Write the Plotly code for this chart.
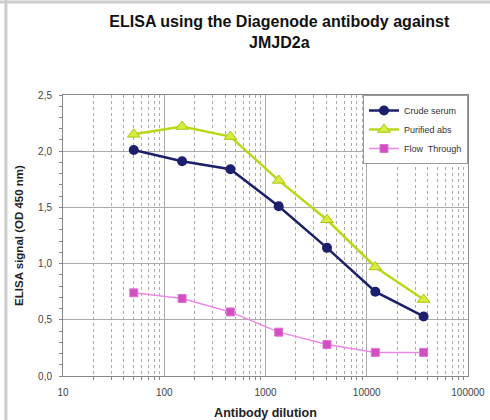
import plotly.graph_objects as go

dilution = [50, 150, 450, 1350, 4050, 12150, 36450]
crude_serum = [2.01, 1.91, 1.84, 1.51, 1.14, 0.75, 0.53]
purified_abs = [2.15, 2.22, 2.13, 1.74, 1.39, 0.97, 0.68]
flow_through = [0.74, 0.69, 0.57, 0.39, 0.28, 0.21, 0.21]

x_tickvals = [10, 100, 1000, 10000, 100000]
x_ticktext = ["10", "100", "1000", "10000", "100000"]
y_tickvals = [0, 0.5, 1.0, 1.5, 2.0, 2.5]
y_ticktext = ["0,0", "0,5", "1,0", "1,5", "2,0", "2,5"]

fig = go.Figure()
fig.add_trace(go.Scatter(x=dilution, y=crude_serum, name="Crude serum", mode="lines+markers",
                         line=dict(color="#1c1f6b", width=2.5),
                         marker=dict(symbol="circle", size=10, color="#1c1f6b")))
fig.add_trace(go.Scatter(x=dilution, y=purified_abs, name="Purified abs", mode="lines+markers",
                         line=dict(color="#b8d81a", width=2.5),
                         marker=dict(symbol="triangle-up", size=11, color="#d8ec40",
                                     line=dict(color="#a8c810", width=1))))
fig.add_trace(go.Scatter(x=dilution, y=flow_through, name="Flow  Through", mode="lines+markers",
                         line=dict(color="#ee88e8", width=1.5),
                         marker=dict(symbol="square", size=8, color="#d050c0",
                                     line=dict(color="#e070d8", width=1))))

minor_x = [m * 10 ** e for e in range(1, 5) for m in range(2, 10)]

fig.update_layout(
    width=490, height=420,
    paper_bgcolor="white", plot_bgcolor="white",
    margin=dict(l=63, r=22, t=95, b=44),
    title=dict(text="<b>ELISA using the Diagenode antibody against<br>JMJD2a</b>",
               x=0.57, xanchor="center", y=0.936, yanchor="top",
               font=dict(family="Liberation Sans, Arial", size=16, color="#111")),
    font=dict(family="Liberation Sans, Arial", size=10, color="#444"),
    showlegend=True,
    legend=dict(x=1.0, xanchor="right", y=1.0, yanchor="top",
                bgcolor="white", bordercolor="#999", borderwidth=1,
                font=dict(size=9, color="#333"), tracegroupgap=0,
                itemwidth=30),
    xaxis=dict(type="log", range=[1, 5], tickvals=x_tickvals, ticktext=x_ticktext,
               automargin=False, ticklabelstandoff=7,
               showgrid=True, gridcolor="#aaa", gridwidth=1,
               showline=True, linecolor="#888", mirror=True, ticks="",
               minor=dict(tickvals=minor_x, showgrid=True, gridcolor="#aaa",
                          griddash="dot", gridwidth=1, ticks="outside", ticklen=3, tickcolor="#888"),
               title=dict(text="<b>Antibody dilution</b>", font=dict(size=12.5, color="#222"), standoff=11),
               zeroline=False),
    yaxis=dict(range=[0, 2.5], tickvals=y_tickvals, ticktext=y_ticktext,
               automargin=False, ticklabelstandoff=8,
               showgrid=True, gridcolor="#aaa", gridwidth=1,
               showline=True, linecolor="#888", mirror=True, ticks="",
               minor=dict(dtick=0.1, ticks="outside", ticklen=3, tickcolor="#888", showgrid=False),
               title=dict(text="<b>ELISA signal (OD 450 nm)</b>", font=dict(size=11.5, color="#222"), standoff=12),
               zeroline=False),
    shapes=[
        dict(type="line", xref="paper", yref="paper", x0=-0.141, x1=-0.141, y0=-0.3, y1=1.4,
             line=dict(color="#ccc", width=3)),
        dict(type="line", xref="paper", yref="paper", x0=-0.3, x1=1.2, y0=1.331, y1=1.331,
             line=dict(color="#ccc", width=3)),
    ],
)

fig.write_html(
    "out.html",
    config={"displayModeBar": False},
    post_script="document.body.style.margin='0';document.body.style.overflow='hidden';",
)
